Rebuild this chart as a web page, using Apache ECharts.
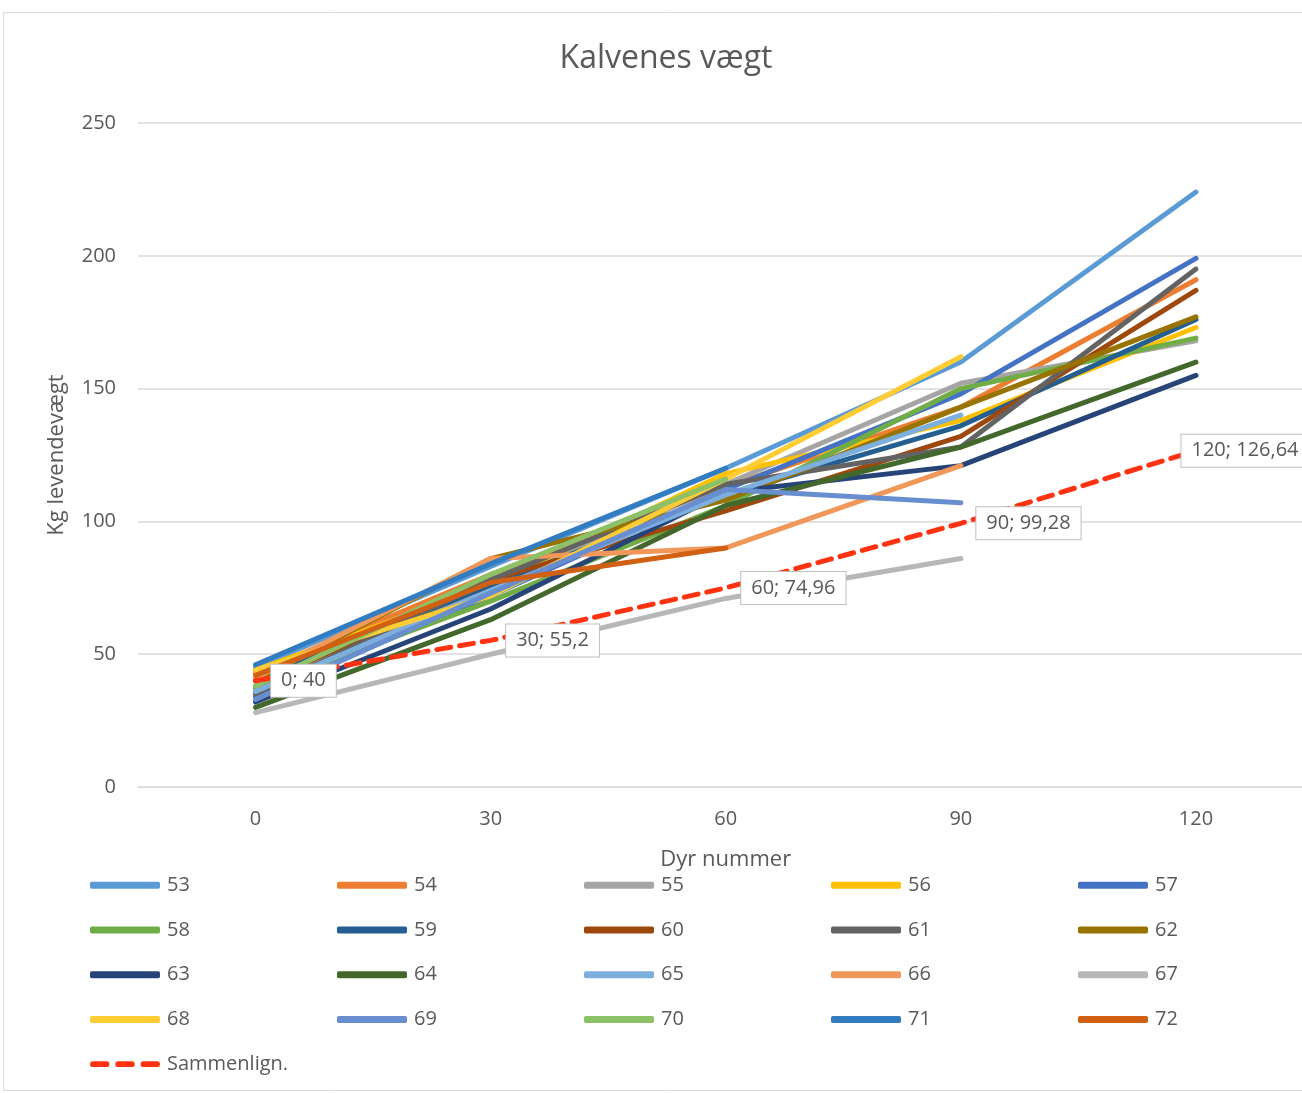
<!DOCTYPE html>
<html>
<head>
<meta charset="utf-8">
<script src="https://cdn.jsdelivr.net/npm/echarts@6/dist/echarts.min.js"></script>
<style>
html,body{margin:0;padding:0;overflow:hidden;background:#fff;}
#c{width:1330px;height:1093px;}
</style>
</head>
<body>
<div id="c"></div>
<script>
const categories = ['0', '30', '60', '90', '120'];
const yTicks = [0, 50, 100, 150, 200, 250];

const s53 = [45, 83, 120, 160, 224];
const s54 = [43, 80, 113, 143, 191];
const s55 = [36, 76, 114, 152, 168];
const s56 = [44, 76, 118, 138, 173];
const s57 = [34, 72, 112, 148, 199];
const s58 = [37, 70, 106, 150, 169];
const s59 = [40, 76, 110, 136, 176];
const s60 = [38, 78, 104, 132, 187];
const s61 = [35, 78, 114, 128, 195];
const s62 = [40, 86, 108, 143, 177];
const s63 = [32, 67, 111, 121, 155];
const s64 = [30, 63, 106, 128, 160];
const s65 = [36, 74, 110, 140];
const s66 = [41, 86, 90, 121];
const s67 = [28, 50, 71, 86];
const s68 = [44, 72, 116, 162];
const s69 = [33, 73, 112, 107];
const s70 = [38, 80, 116];
const s71 = [46, 84, 120];
const s72 = [42, 77, 90];
const sammenlign = [40, 55.2, 74.96, 99.28, 126.64];

const seriesNames = ['53','54','55','56','57','58','59','60','61','62','63','64','65','66','67','68','69','70','71','72'];
const seriesData = [s53,s54,s55,s56,s57,s58,s59,s60,s61,s62,s63,s64,s65,s66,s67,s68,s69,s70,s71,s72];
const colors = ['#5B9BD5','#ED7D31','#A5A5A5','#FFC000','#4472C4','#70AD47','#255E91','#9E480E','#636363','#997300','#264478','#43682B','#7CAFDD','#F1975A','#B7B7B7','#FFCD33','#698ED0','#8CC168','#327DC2','#D26012'];
const RED = '#FF3311';

const FONT = "'Liberation Sans Narrow', 'Open Sans', sans-serif";
const TXT = '#595959';

const series = seriesNames.map((n, i) => ({
  name: n,
  type: 'line',
  data: seriesData[i],
  symbol: 'none',
  color: colors[i],
  lineStyle: { width: 5, color: colors[i], cap: 'round', join: 'round' },
  emphasis: { disabled: true },
  animation: false
}));

const lastIdx = sammenlign.length - 1;
series.push({
  name: 'Sammenlign.',
  type: 'line',
  data: sammenlign.map((v, i) => i === lastIdx ? { value: v, label: { distance: -15 } } : v),
  symbol: 'circle',
  showSymbol: true,
  symbolSize: 1,
  itemStyle: { color: 'rgba(0,0,0,0)' },
  color: RED,
  lineStyle: { width: 5, color: RED, type: [14, 9], cap: 'round' },
  label: {
    show: true,
    position: 'right',
    distance: 15,
    offset: [0, 3],
    formatter: p => categories[p.dataIndex] + '; ' + String(p.value).replace('.', ','),
    fontFamily: FONT,
    fontSize: 20,
    color: TXT,
    backgroundColor: '#fff',
    borderColor: '#BFBFBF',
    borderWidth: 1,
    padding: [7, 10, 5, 10]
  },
  labelLayout: { hideOverlap: false },
  emphasis: { disabled: true },
  z: 5,
  animation: false
});

const legendData = seriesNames.map((n, i) => ({
  name: n,
  icon: 'roundRect',
  itemStyle: { color: colors[i] }
}));
legendData.push({
  name: 'Sammenlign.',
  icon: 'path://M3,0h14a3,3 0 0 1 0,6h-14a3,3 0 0 1 0,-6z M29,0h14a3,3 0 0 1 0,6h-14a3,3 0 0 1 0,-6z M55,0h14a3,3 0 0 1 0,6h-14a3,3 0 0 1 0,-6z',
  itemStyle: { color: RED }
});

const chart = echarts.init(document.getElementById('c'));
chart.setOption({
  animation: false,
  backgroundColor: '#fff',
  title: {
    text: 'Kalvenes vægt',
    left: 661,
    textAlign: 'center',
    top: 38,
    textStyle: { fontFamily: FONT, fontSize: 32, fontWeight: 'normal', color: TXT }
  },
  graphic: [{
    type: 'rect',
    shape: { x: 3.5, y: 12.5, width: 1400, height: 1078 },
    style: { fill: 'none', stroke: '#D9D9D9', lineWidth: 1 },
    z: -10
  }],
  grid: { left: 138, top: 123, width: 1175.5, height: 664, containLabel: false },
  xAxis: {
    type: 'category',
    data: categories,
    boundaryGap: true,
    name: 'Dyr nummer',
    nameLocation: 'middle',
    nameGap: 62,
    nameTextStyle: { fontFamily: FONT, fontSize: 22, color: TXT },
    axisLine: { show: true, lineStyle: { color: '#D9D9D9', width: 1 } },
    axisTick: { show: false },
    axisLabel: { fontFamily: FONT, fontSize: 20, color: TXT, margin: 22 }
  },
  yAxis: {
    type: 'value',
    min: yTicks[0],
    max: yTicks[yTicks.length - 1],
    interval: 50,
    name: 'Kg levendevægt',
    nameLocation: 'middle',
    nameGap: 70,
    nameRotate: 90,
    nameTextStyle: { fontFamily: FONT, fontSize: 22, color: TXT },
    axisLine: { show: false },
    axisTick: { show: false },
    splitLine: { lineStyle: { color: '#D9D9D9', width: 1.5 } },
    axisLabel: { fontFamily: FONT, fontSize: 20, color: TXT, margin: 22 }
  },
  legend: {
    left: 85,
    top: 858,
    width: 1250,
    orient: 'horizontal',
    itemGap: 0,
    itemWidth: 70,
    itemHeight: 7,
    data: legendData,
    textStyle: { fontFamily: FONT, fontSize: 20, color: TXT, width: 170, lineHeight: 44.7, padding: [0, 0, 0, 2] },
    selectedMode: false
  },
  series: series
});
</script>
</body>
</html>
